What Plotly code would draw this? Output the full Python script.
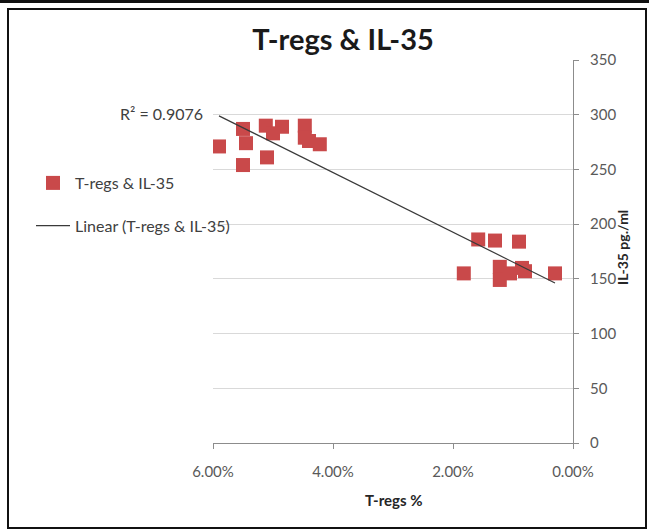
import numpy as np
import plotly.graph_objects as go

# Data (T-regs %, IL-35 pg/ml)
tregs_pct = [5.90, 5.50, 5.45, 5.50, 5.10, 5.12, 4.85, 5.00, 4.47, 4.47, 4.22, 4.40,
             1.58, 1.30, 1.82, 0.90, 1.22, 1.22, 1.05, 0.85, 0.80, 0.30]
il35 = [271, 287, 274, 254, 261, 290, 289, 283, 290, 279, 273, 276,
        186, 185, 155, 184, 161, 149, 155, 160, 157, 155]
x_ticks = [0.06, 0.04, 0.02, 0.0]
y_ticks = [0, 50, 100, 150, 200, 250, 300, 350]

x = np.array(tregs_pct) / 100.0
y = np.array(il35, dtype=float)
slope, intercept = np.polyfit(x, y, 1)
xl = np.array([x.max(), x.min()])
yl = slope * xl + intercept

W, H = 649, 529
L, R, T, B = 213, 573, 60, 443
def px(v):
    return (v - L) / (R - L)
def py(v):
    return (B - v) / (B - T)

font = "Lato, 'Open Sans', sans-serif"

fig = go.Figure()
fig.add_trace(go.Scatter(
    x=x, y=y, mode="markers", name="T-regs & IL-35",
    marker=dict(symbol="square", size=14, color="#c9494a"),
    legendgroup="a"))
fig.add_trace(go.Scatter(
    x=xl, y=yl, mode="lines", name="Linear (T-regs & IL-35)",
    line=dict(color="#3a3a3a", width=1.2), legendgroup="b"))

fig.update_layout(
    width=W, height=H,
    margin=dict(l=L, r=W - R, t=T, b=H - B),
    paper_bgcolor="white", plot_bgcolor="white",
    font=dict(family=font, size=15, color="#595959"),
    title=dict(text="<b>T-regs & IL-35</b>", x=343 / W, xanchor="center",
               y=1 - 40 / H, yanchor="middle",
               font=dict(size=29, color="#1a1a1a", family=font)),
    showlegend=True,
    legend=dict(x=px(31), y=py(166), xanchor="left", yanchor="top",
                traceorder="grouped", tracegroupgap=19, itemwidth=34,
                font=dict(size=16, color="#404040"), bgcolor="rgba(0,0,0,0)"),
    xaxis=dict(range=[0.06, 0.0], tickvals=x_ticks, tickformat=".2%",
               showgrid=False, zeroline=False, showline=True,
               linecolor="#8c8c8c", linewidth=1, ticks="outside", ticklen=5,
               tickcolor="#8c8c8c", ticklabelstandoff=10,
               tickfont=dict(size=15, color="#595959")),
    yaxis=dict(range=[0, 350], tickvals=y_ticks, side="right",
               showgrid=True, gridcolor="#d9d9d9", zeroline=False,
               showline=True, linecolor="#8c8c8c", linewidth=1,
               ticks="outside", ticklen=5, tickcolor="#8c8c8c",
               ticklabelstandoff=8,
               tickfont=dict(size=15, color="#595959")),
)

fig.add_annotation(text="R² = 0.9076", x=px(205), y=py(113), xref="paper", yref="paper",
                   xanchor="right", yanchor="middle", showarrow=False,
                   font=dict(size=16, color="#404040"))
fig.add_annotation(text="<b>T-regs %</b>", x=px(394), y=py(500), xref="paper", yref="paper",
                   xanchor="center", yanchor="middle", showarrow=False,
                   font=dict(size=15, color="#262626"))
fig.add_annotation(text="<b>IL-35 pg./ml</b>", x=px(622), y=py(248), xref="paper", yref="paper",
                   xanchor="center", yanchor="middle", showarrow=False, textangle=-90,
                   font=dict(size=14, color="#262626"))

# frame lines
fig.add_shape(type="line", xref="paper", yref="paper", x0=px(0), x1=px(649),
              y0=py(1.5), y1=py(1.5), line=dict(color="#111111", width=3))
fig.add_shape(type="rect", xref="paper", yref="paper", x0=px(8), x1=px(646),
              y0=py(9), y1=py(528), line=dict(color="#111111", width=2))

fig.write_html("out.html", config={"displayModeBar": False},
               post_script="document.body.style.margin='0';")
